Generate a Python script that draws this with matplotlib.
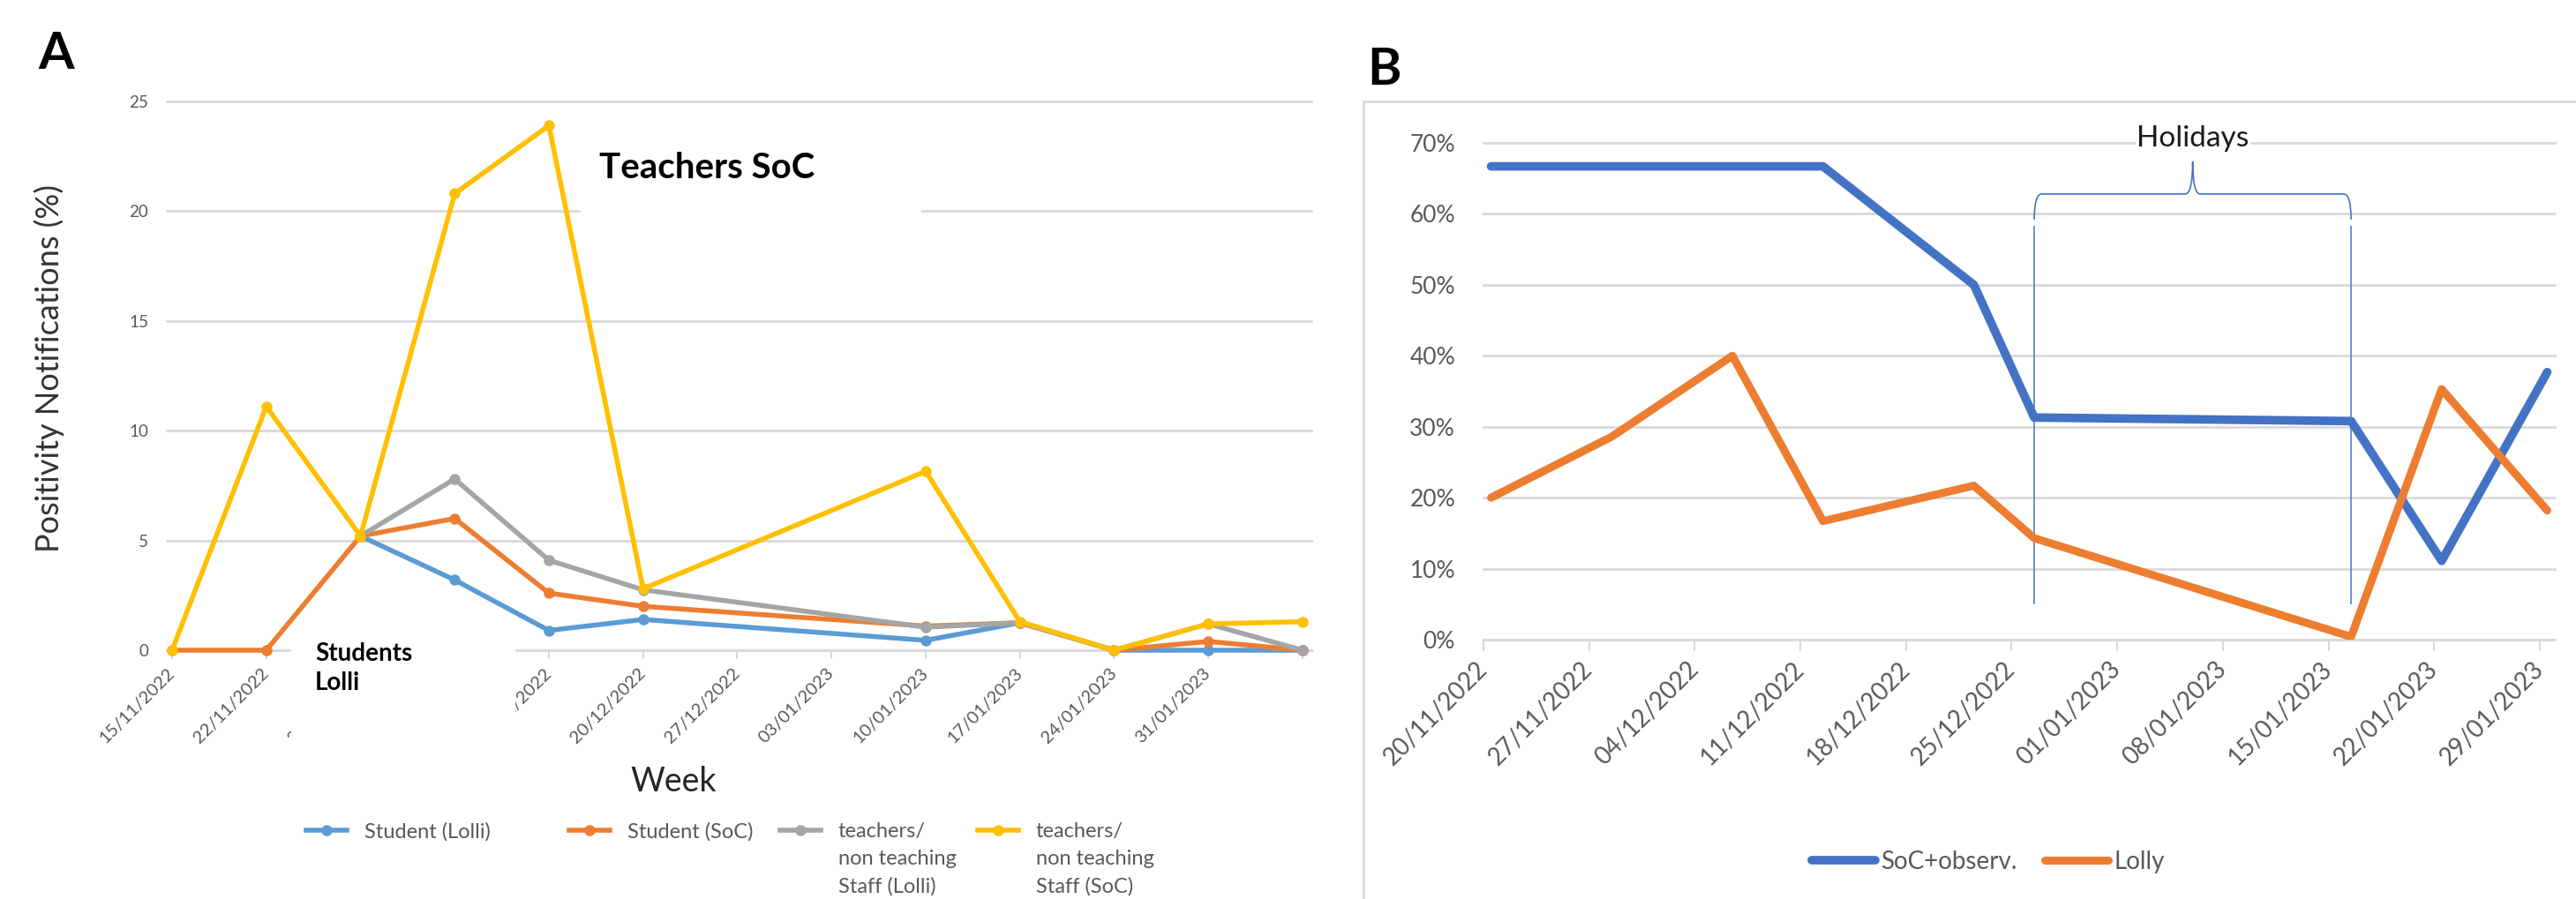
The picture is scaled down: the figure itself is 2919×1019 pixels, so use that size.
import numpy as np
import matplotlib
matplotlib.use("Agg")
import matplotlib.pyplot as plt
import matplotlib.dates as mdates
from matplotlib.patches import Rectangle, PathPatch
from matplotlib.path import Path
from datetime import datetime

W, H, DPI = 2919, 1019, 100
plt.rcParams['font.family'] = ['Lato', 'DejaVu Sans']

# ---- panel A data (weekly positivity, %) ----
weeks_a = ["15/11/2022", "22/11/2022", "29/11/2022", "06/12/2022", "13/12/2022",
           "20/12/2022", "27/12/2022", "03/01/2023", "10/01/2023", "17/01/2023",
           "24/01/2023", "31/01/2023", "07/02/2023"]
week_labels_a = weeks_a[:12] + [""]
nan = np.nan
student_lolli = [nan, nan, 5.2, 3.2, 0.9, 1.4, nan, nan, 0.45, 1.25, 0, 0, 0]
student_soc = [0, 0, 5.2, 6.0, 2.6, 2.0, nan, nan, 1.1, 1.25, 0, 0.4, 0]
staff_lolli = [nan, nan, 5.2, 7.8, 4.1, 2.75, nan, nan, 1.05, 1.25, 0, 1.2, 0]
staff_soc = [0, 11.1, 5.2, 20.8, 23.9, 2.8, nan, nan, 8.15, 1.3, 0, 1.2, 1.3]
labels_a = ["Student (Lolli)", "Student (SoC)",
            "teachers/\nnon teaching\nStaff (Lolli)",
            "teachers/\nnon teaching\nStaff (SoC)"]
colors_a = ["#5B9BD5", "#ED7D31", "#A5A5A5", "#FFC000"]

# ---- panel B data ----
dates_b = ["20/11/2022", "28/11/2022", "06/12/2022", "12/12/2022", "22/12/2022",
           "26/12/2022", "16/01/2023", "22/01/2023", "29/01/2023"]
soc_observ = [66.7, 66.7, 66.7, 66.7, 50.0, 31.3, 30.8, 11.1, 37.7]
lolly = [20.0, 28.6, 40.0, 16.7, 21.7, 14.3, 0.4, 35.3, 18.2]
ticks_b = ["20/11/2022", "27/11/2022", "04/12/2022", "11/12/2022", "18/12/2022",
           "25/12/2022", "01/01/2023", "08/01/2023", "15/01/2023", "22/01/2023",
           "29/01/2023"]
holiday_start, holiday_end = "26/12/2022", "16/01/2023"


def px(x0, y0, x1, y1):
    # figure-fraction rect from pixel box (top-left origin)
    return [x0 / W, 1 - y1 / H, (x1 - x0) / W, (y1 - y0) / H]


fig = plt.figure(figsize=(W / DPI, H / DPI), dpi=DPI)

# ================= panel A =================
axA = fig.add_axes(px(189, 115, 1486, 737))
xa = np.arange(len(weeks_a))
lines_a = []
for vals, col, lab in zip([student_lolli, student_soc, staff_lolli, staff_soc], colors_a, labels_a):
    v = np.array(vals, float)
    m = ~np.isnan(v)
    ln, = axA.plot(xa[m], v[m], color=col, lw=4, marker='o', ms=8, clip_on=False, zorder=3)
    lines_a.append(ln)
axA.set_xlim(-0.056, 12.094)
axA.set_ylim(0, 25)
axA.set_yticks(range(0, 26, 5))
axA.set_xticks(xa)
axA.set_xticklabels(week_labels_a, rotation=45, ha='right', va='center',
                    rotation_mode='anchor', fontsize=14.5, color='#595959')
for s in axA.spines.values():
    s.set_visible(False)
axA.spines['bottom'].set_visible(True)
axA.spines['bottom'].set_color('#d9d9d9')
axA.spines['bottom'].set_linewidth(2)
axA.grid(axis='y', color='#d9d9d9', lw=2)
axA.set_axisbelow(True)
for g in axA.get_ygridlines():
    g.set_clip_on(False)
axA.tick_params(axis='x', length=7, width=1.5, color='#d9d9d9', pad=10)
axA.tick_params(axis='y', length=0, pad=15, labelsize=13.5, labelcolor='#595959')
axA.set_ylabel("Positivity Notifications (%)", fontsize=26, color='#333333', va='center')
axA.yaxis.set_label_coords((56 - 189) / 1297, (737 - 418) / 622)
axA.set_xlabel("Week", fontsize=27, color='#262626', va='center')
axA.xaxis.set_label_coords((763 - 189) / 1297, (737 - 886) / 622)

# white text boxes laid over the chart
fig.add_artist(Rectangle((658 / W, 1 - 255 / H), 386 / W, 115 / H, transform=fig.transFigure,
                         fc='white', ec='none', zorder=2))
fig.add_artist(Rectangle((330 / W, 1 - 870 / H), 254 / W, 148 / H, transform=fig.transFigure,
                         fc='white', ec='none', zorder=2))
fig.text(679 / W, 1 - 191 / H, "Teachers SoC", fontsize=29, fontweight='bold', va='center')
fig.text(357 / W, 1 - 728 / H, "Students\nLolli", fontsize=20, fontweight='bold', va='top',
         linespacing=1.35)
fig.text(64 / W, 1 - 62 / H, "A", fontsize=42, fontweight='bold', ha='center', va='center')

# legend A, one entry per column
fs = 17
fpx = fs * DPI / 72
y_leg, dy_leg = 943, 31
for ln, lab, x0 in zip(lines_a, labels_a, [347, 645, 884, 1108]):
    parts = lab.split("\n")
    fig.legend([ln], [parts[0]], loc='center left', bbox_to_anchor=(x0 / W, 1 - y_leg / H),
               frameon=False, fontsize=fs, labelcolor='#595959', borderpad=0, borderaxespad=0,
               handlelength=46 / fpx, handletextpad=20 / fpx)
    for i, extra in enumerate(parts[1:]):
        fig.text((x0 + 66) / W, 1 - (y_leg + dy_leg * (i + 1)) / H, extra, fontsize=fs,
                 color='#595959', va='center')

# ================= panel B =================
fig.add_artist(Rectangle((1545 / W, -0.05), 0.6, 1.05 - 115 / H, transform=fig.transFigure,
                         fill=False, ec='#d9d9d9', lw=2, zorder=0))
axB = fig.add_axes(px(1681, 162, 2895, 725))
to_num = lambda s: mdates.date2num(datetime.strptime(s, "%d/%m/%Y"))
xb = np.array([to_num(d) for d in dates_b]) + 0.5
d0 = to_num(ticks_b[0])
axB.plot(xb, soc_observ, color='#4472C4', lw=7, solid_capstyle='round', label='SoC+observ.', zorder=3)
axB.plot(xb, lolly, color='#ED7D31', lw=6.5, solid_capstyle='round', label='Lolly', zorder=3)
axB.set_xlim(d0, d0 + 71)
axB.set_ylim(0, 70)
axB.set_yticks(range(0, 71, 10))
axB.set_yticklabels([f"{v}%" for v in range(0, 71, 10)])
axB.set_xticks([to_num(t) for t in ticks_b])
axB.set_xticklabels(ticks_b, rotation=45, ha='right', va='center', rotation_mode='anchor',
                    fontsize=20, color='#595959')
for s in axB.spines.values():
    s.set_visible(False)
axB.spines['bottom'].set_visible(True)
axB.spines['bottom'].set_color('#d9d9d9')
axB.spines['bottom'].set_linewidth(2)
axB.grid(axis='y', color='#d9d9d9', lw=2)
axB.set_axisbelow(True)
for g in axB.get_ygridlines():
    g.set_clip_on(False)
axB.tick_params(axis='x', length=9, width=1.5, color='#d9d9d9', pad=12)
axB.tick_params(axis='y', length=0, pad=23, labelsize=19, labelcolor='#595959')

# holidays brace
hs = to_num(holiday_start) + 0.5
he = to_num(holiday_end) + 0.5
hm = (hs + he) / 2
yb, ye, yt, w = 62.8, 59.2, 67.4, 0.5
verts = [(hs, ye), (hs, yb), (hs + w, yb), (hm - w, yb), (hm, yb), (hm, yt),
         (hm, yb), (hm + w, yb), (he - w, yb), (he, yb), (he, ye)]
codes = [Path.MOVETO, Path.CURVE3, Path.CURVE3, Path.LINETO, Path.CURVE3, Path.CURVE3,
         Path.CURVE3, Path.CURVE3, Path.LINETO, Path.CURVE3, Path.CURVE3]
axB.add_patch(PathPatch(Path(verts, codes), fill=False, ec='#4472C4', lw=1.2, clip_on=False, zorder=2))
axB.vlines([hs, he], 5, 58.3, color='#4472C4', lw=1.1, zorder=2)
axB.text(hm, 70.6, "Holidays", fontsize=24, color='#1a1a1a', ha='center', va='center',
         bbox=dict(fc='white', ec='none', pad=1), clip_on=False)

fsb = 20
fpxb = fsb * DPI / 72
fig.legend(*axB.get_legend_handles_labels(), loc='center left', bbox_to_anchor=(2053 / W, 1 - 977 / H),
           ncol=2, frameon=False, fontsize=fsb, labelcolor='#595959', borderpad=0, borderaxespad=0,
           handlelength=72 / fpxb, handletextpad=6 / fpxb, columnspacing=32 / fpxb)
fig.text(1568 / W, 1 - 80 / H, "B", fontsize=42, fontweight='bold', ha='center', va='center')

fig.savefig("out.png", dpi=DPI)
